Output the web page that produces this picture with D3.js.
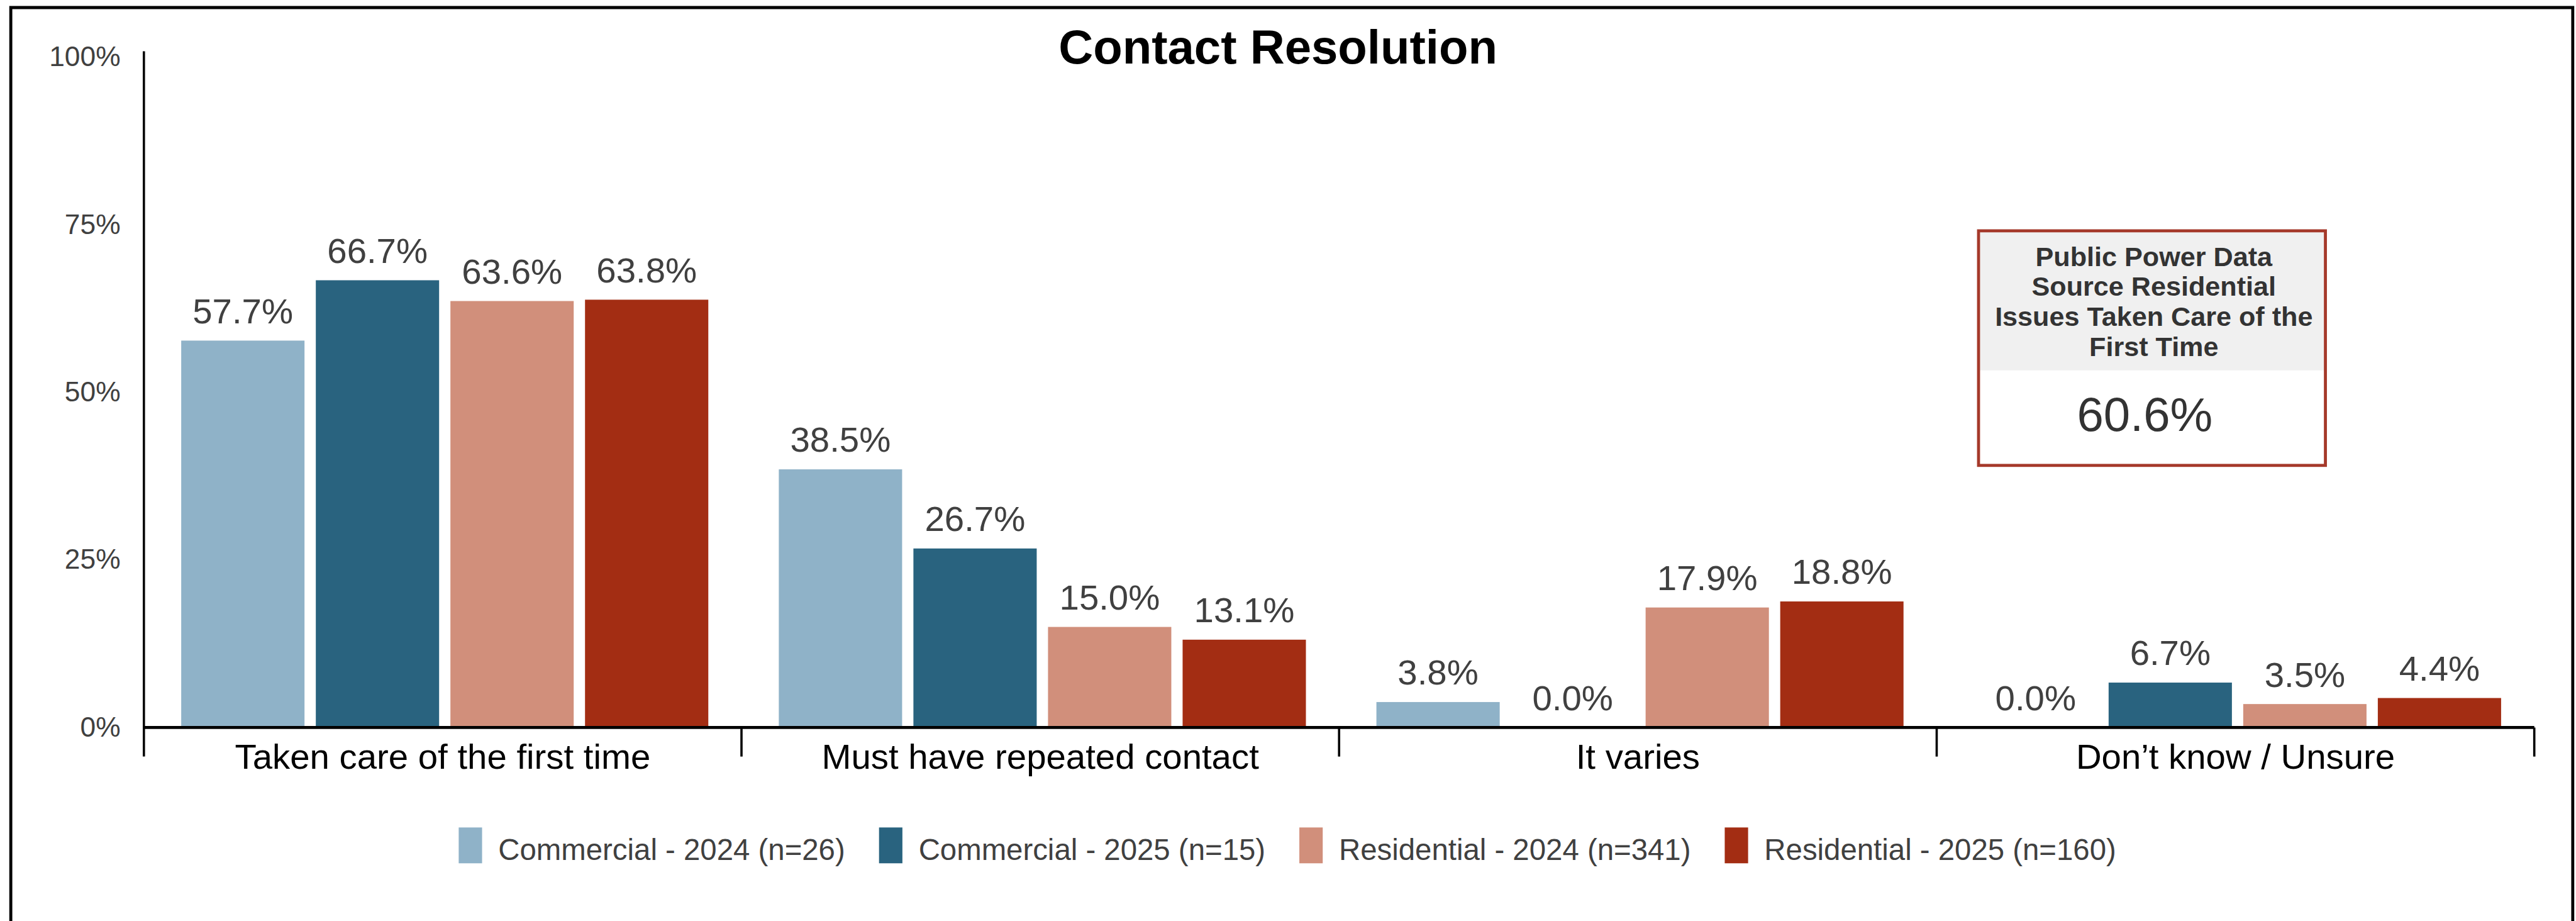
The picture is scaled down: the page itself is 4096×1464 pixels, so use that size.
<!DOCTYPE html>
<html>
<head>
<meta charset="utf-8">
<script src="https://cdn.jsdelivr.net/npm/d3@7"></script>
<style>
  html, body { margin: 0; padding: 0; background: #ffffff; }
  svg { display: block; }
  text { font-family: "Liberation Sans", Arial, Helvetica, sans-serif; }
</style>
</head>
<body>
<svg id="chart"></svg>
<script>
// ---- data ----
const categories = [
  "Taken care of the first time",
  "Must have repeated contact",
  "It varies",
  "Don\u2019t know / Unsure"
];
const seriesNames = [
  "Commercial - 2024 (n=26)",
  "Commercial - 2025 (n=15)",
  "Residential - 2024 (n=341)",
  "Residential - 2025 (n=160)"
];
const commercial2024 = [57.7, 38.5, 3.8, 0.0];
const commercial2025 = [66.7, 26.7, 0.0, 6.7];
const residential2024 = [63.6, 15.0, 17.9, 3.5];
const residential2025 = [63.8, 13.1, 18.8, 4.4];
const seriesColors = ["#8fb2c8", "#29637f", "#d18f7b", "#a32d13"];
const yTicks = [0, 25, 50, 75, 100];
const chartTitle = "Contact Resolution";
const calloutLines = ["Public Power Data", "Source Residential", "Issues Taken Care of the", "First Time"];
const calloutValue = 60.6;

const seriesValues = [commercial2024, commercial2025, residential2024, residential2025];

// ---- canvas: drawn in a 6831 x 2442 unit space, shown at 4096 x 1464 ----
const W = 6831, H = 2442;
const svg = d3.select("#chart")
  .attr("width", 4096).attr("height", 1464)
  .attr("viewBox", `0 0 ${W} ${H}`);

svg.append("rect").attr("width", W).attr("height", H).attr("fill", "#ffffff");

// outer frame (left, top, right)
svg.append("path")
  .attr("d", `M28,${H + 20} L28,20 L6823,20 L6823,${H + 20}`)
  .attr("fill", "none").attr("stroke", "#000").attr("stroke-width", 8);

const plot = { left: 381, right: 6721, top: 151, bottom: 1929 };

const x0 = d3.scaleBand().domain(categories).range([plot.left, plot.right]).padding(0);
const x1 = d3.scaleBand().domain(d3.range(seriesNames.length))
  .range([99, x0.bandwidth() - 88]).paddingInner(0.084).paddingOuter(0);
const y = d3.scaleLinear().domain([0, 100]).range([plot.bottom, plot.top]);

// title
svg.append("text")
  .attr("x", 3389).attr("y", 168)
  .attr("text-anchor", "middle")
  .attr("font-size", 127).attr("font-weight", "bold").attr("fill", "#000")
  .text(chartTitle);

// y axis labels
const yAxis = d3.axisLeft(y).tickValues(yTicks).tickSize(0).tickPadding(62)
  .tickFormat(d => d + "%");
const gy = svg.append("g").attr("transform", `translate(${plot.left},0)`).call(yAxis);
gy.select(".domain").remove();
gy.selectAll("text")
  .attr("font-size", 74).attr("fill", "#404040")
  .style("font-family", "'Liberation Sans', Arial, sans-serif");

// bars
const groups = svg.append("g").selectAll("g")
  .data(categories)
  .join("g")
  .attr("transform", d => `translate(${x0(d)},0)`);

groups.selectAll("rect")
  .data((c, ci) => seriesValues.map((vals, si) => ({ si, v: vals[ci] })))
  .join("rect")
  .attr("x", d => x1(d.si))
  .attr("width", x1.bandwidth())
  .attr("y", d => y(d.v))
  .attr("height", d => y(0) - y(d.v))
  .attr("fill", d => seriesColors[d.si]);

groups.selectAll("text.val")
  .data((c, ci) => seriesValues.map((vals, si) => ({ si, v: vals[ci] })))
  .join("text")
  .attr("class", "val")
  .attr("x", d => x1(d.si) + x1.bandwidth() / 2)
  .attr("y", d => y(d.v) - 46)
  .attr("text-anchor", "middle")
  .attr("font-size", 94).attr("fill", "#404040")
  .text(d => d.v.toFixed(1) + "%");

// y axis line
svg.append("line")
  .attr("x1", plot.left).attr("x2", plot.left)
  .attr("y1", 136).attr("y2", 2006)
  .attr("stroke", "#000").attr("stroke-width", 6);

// x axis line
svg.append("line")
  .attr("x1", plot.left).attr("x2", plot.right)
  .attr("y1", plot.bottom).attr("y2", plot.bottom)
  .attr("stroke", "#000").attr("stroke-width", 8);

// category boundary ticks
const boundaries = categories.map(c => x0(c)).concat([x0.range()[1]]).slice(1);
svg.append("g").selectAll("line")
  .data(boundaries)
  .join("line")
  .attr("x1", d => d).attr("x2", d => d)
  .attr("y1", plot.bottom).attr("y2", 2006)
  .attr("stroke", "#000").attr("stroke-width", 6);

// category labels
svg.append("g").selectAll("text")
  .data(categories)
  .join("text")
  .attr("x", d => x0(d) + x0.bandwidth() / 2)
  .attr("y", 2038)
  .attr("text-anchor", "middle")
  .attr("font-size", 94).attr("fill", "#000")
  .text(d => d);

// legend
const legend = svg.append("g");
const items = legend.selectAll("g")
  .data(seriesNames)
  .join("g");
items.append("rect")
  .attr("x", 0).attr("y", 2194)
  .attr("width", 62).attr("height", 95)
  .attr("fill", (d, i) => seriesColors[i]);
items.append("text")
  .attr("x", 105).attr("y", 2280)
  .attr("font-size", 79).attr("fill", "#404040")
  .text(d => d);
let cursor = 0;
const offsets = [];
items.each(function () {
  const tw = d3.select(this).select("text").node().getComputedTextLength();
  offsets.push(cursor);
  cursor += 105 + tw + 90;
});
const legendWidth = cursor - 90;
const legendStart = 3414 - legendWidth / 2;
items.attr("transform", (d, i) => `translate(${legendStart + offsets[i]},0)`);

// callout box
const box = { x: 5247, y: 612, w: 920, h: 622 };
svg.append("rect")
  .attr("x", box.x).attr("y", box.y)
  .attr("width", box.w).attr("height", 982 - box.y)
  .attr("fill", "#f0f0f0");
svg.append("rect")
  .attr("x", box.x).attr("y", box.y)
  .attr("width", box.w).attr("height", box.h)
  .attr("fill", "none").attr("stroke", "#a5392a").attr("stroke-width", 8);
svg.append("g").selectAll("text")
  .data(calloutLines)
  .join("text")
  .attr("x", box.x + box.w / 2 + 5)
  .attr("y", (d, i) => 705 + i * 79.5)
  .attr("text-anchor", "middle")
  .attr("font-size", 72).attr("font-weight", "bold").attr("fill", "#333333")
  .text(d => d);
svg.append("text")
  .attr("x", 5688).attr("y", 1142)
  .attr("text-anchor", "middle")
  .attr("font-size", 127).attr("fill", "#333333")
  .text(calloutValue.toFixed(1) + "%");
</script>
</body>
</html>
